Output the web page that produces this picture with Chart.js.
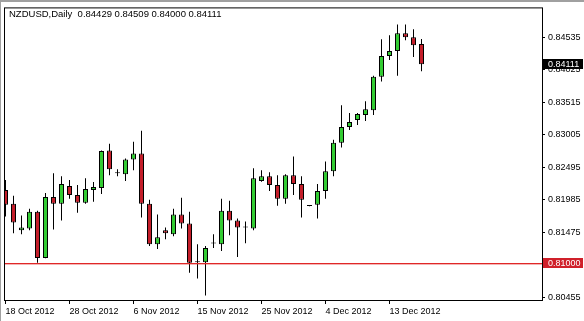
<!DOCTYPE html>
<html><head><meta charset="utf-8">
<script src="https://cdn.jsdelivr.net/npm/chart.js@4"></script>
<style>html,body{margin:0;padding:0;background:#fff;overflow:hidden}#wrap{width:584px;height:321px;position:relative}</style>
</head><body><div id="wrap"><canvas id="c" width="584" height="321"></canvas></div>
<script>
const symbol = 'NZDUSD';
const timeframe = 'Daily';
const dates = ['18 Oct 2012','19 Oct 2012','21 Oct 2012','22 Oct 2012','23 Oct 2012','24 Oct 2012','25 Oct 2012','26 Oct 2012',
 '28 Oct 2012','29 Oct 2012','30 Oct 2012','31 Oct 2012','1 Nov 2012','2 Nov 2012','4 Nov 2012','5 Nov 2012',
 '6 Nov 2012','7 Nov 2012','8 Nov 2012','9 Nov 2012','11 Nov 2012','12 Nov 2012','13 Nov 2012','14 Nov 2012',
 '15 Nov 2012','16 Nov 2012','18 Nov 2012','19 Nov 2012','20 Nov 2012','21 Nov 2012','22 Nov 2012','23 Nov 2012',
 '25 Nov 2012','26 Nov 2012','27 Nov 2012','28 Nov 2012','29 Nov 2012','30 Nov 2012','2 Dec 2012','3 Dec 2012',
 '4 Dec 2012','5 Dec 2012','6 Dec 2012','7 Dec 2012','9 Dec 2012','10 Dec 2012','11 Dec 2012','12 Dec 2012',
 '13 Dec 2012','14 Dec 2012','16 Dec 2012','17 Dec 2012','18 Dec 2012'];
const opens = [0.82139,0.81923,0.81506,0.81537,0.81799,0.81073,0.82031,0.81923,
 0.82201,0.82062,0.81939,0.82139,0.82170,0.82758,0.82402,0.82387,
 0.82619,0.82711,0.81923,0.81289,0.81506,0.81444,0.81753,0.81614,
 0.81011,0.81005,0.81305,0.81289,0.81815,0.81660,0.81552,0.81537,
 0.82279,0.82356,0.82217,0.82000,0.82371,0.82232,0.81892,0.81908,
 0.82124,0.82433,0.82881,0.83129,0.83237,0.83314,0.83391,0.83917,
 0.84241,0.84319,0.84597,0.84535,0.84429];
const highs = [0.82294,0.82047,0.81738,0.81846,0.81815,0.82093,0.82402,0.82356,
 0.82294,0.82217,0.82325,0.82263,0.82758,0.82866,0.82464,0.82634,
 0.82897,0.83067,0.81985,0.81753,0.81552,0.81846,0.82016,0.81799,
 0.81289,0.81259,0.81444,0.82000,0.81969,0.81691,0.81645,0.82479,
 0.82449,0.82418,0.82371,0.82387,0.82665,0.82356,0.81900,0.82232,
 0.82588,0.82928,0.83469,0.83345,0.83345,0.83530,0.83932,0.84504,
 0.84566,0.84736,0.84736,0.84659,0.84509];
const lows = [0.81722,0.81459,0.81444,0.81506,0.80996,0.81070,0.81521,0.81660,
 0.82000,0.81784,0.81923,0.81954,0.82078,0.82371,0.82356,0.82279,
 0.82449,0.81707,0.81259,0.81212,0.81367,0.81413,0.81537,0.80841,
 0.80749,0.80486,0.81228,0.81181,0.81429,0.81089,0.81305,0.81506,
 0.82270,0.82124,0.81892,0.81923,0.82062,0.81707,0.81885,0.81691,
 0.82000,0.82356,0.82804,0.83082,0.83159,0.83221,0.83314,0.83840,
 0.84180,0.83932,0.84489,0.84226,0.84000];
const closes = [0.81908,0.81629,0.81552,0.81799,0.81073,0.82031,0.81923,0.82232,
 0.82062,0.81939,0.82155,0.82186,0.82750,0.82464,0.82400,0.82619,
 0.82711,0.81923,0.81289,0.81398,0.81459,0.81753,0.81614,0.80996,
 0.81005,0.81228,0.81300,0.81815,0.81660,0.81552,0.81550,0.82325,
 0.82356,0.82217,0.82000,0.82371,0.82232,0.81985,0.81890,0.82124,
 0.82433,0.82881,0.83129,0.83206,0.83330,0.83407,0.83917,0.84241,
 0.84319,0.84597,0.84535,0.84411,0.84111];
const yTicks = [0.80455,0.80965,0.81475,0.81985,0.82495,0.83005,0.83515,0.84025,0.84535];
const xTickIndex = [0,8,16,24,32,40,48];
const levelLine = 0.81;

const BULL = '#33cc33', BEAR = '#c41e2a', LEVEL = '#e02828';
const FONT = {family:'"Liberation Sans", Arial, sans-serif', size:9};
const n = dates.length;
const last = n - 1;

const overlay = {
  id:'overlay',
  afterDatasetsDraw(chart){
    const {ctx, chartArea:ca, scales:{y}} = chart;
    const ly = Math.round(y.getPixelForValue(levelLine));
    ctx.save();
    ctx.fillStyle = LEVEL;
    ctx.fillRect(ca.left, ly, ca.right - ca.left, 1);
    ctx.globalAlpha = 0.35;
    ctx.fillRect(ca.left, ly + 1, ca.right - ca.left, 1);
    ctx.restore();
  },
  afterDraw(chart){
    const {ctx, chartArea:ca, scales:{y}} = chart;
    ctx.save();
    ctx.fillStyle = '#a0a0a0';
    ctx.fillRect(0, 0, chart.width, 2);
    ctx.fillRect(0, 0, 1, chart.height);
    ctx.strokeStyle = '#000'; ctx.lineWidth = 1;
    ctx.strokeRect(ca.left + 0.5, ca.top - 0.5, ca.right - ca.left, ca.bottom - ca.top);
    ctx.font = '9px "Liberation Sans", Arial, sans-serif';
    ctx.textBaseline = 'middle'; ctx.textAlign = 'left';
    const tag = (val, bg) => {
      const py = Math.round(y.getPixelForValue(val));
      ctx.fillStyle = bg;
      ctx.fillRect(ca.right + 1, py - 5, 40, 10);
      ctx.fillStyle = '#fff';
      ctx.fillText(val.toFixed(5), ca.right + 6, py + 0.5);
    };
    tag(levelLine, '#d0202a');
    tag(closes[last], '#000');
    ctx.fillStyle = '#000';
    ctx.textBaseline = 'alphabetic';
    ctx.font = '9.5px "Liberation Sans", Arial, sans-serif';
    ctx.fillText(symbol + ',' + timeframe + '  ' + [opens[last], highs[last], lows[last], closes[last]].map(v => v.toFixed(5)).join(' '), 9, 17);
    ctx.restore();
  }
};

new Chart(document.getElementById('c'), {
  type:'bar',
  data:{
    datasets:[
      {
        label:'wick', order:2,
        data: dates.map((d,i) => ({x:i, y:[lows[i], highs[i]]})),
        backgroundColor:'#000', borderWidth:0, barThickness:1, inflateAmount:0, grouped:false
      },
      {
        label:'body', order:1,
        data: dates.map((d,i) => ({x:i, y:[opens[i], closes[i]]})),
        backgroundColor: dates.map((d,i) => closes[i] >= opens[i] ? BULL : BEAR),
        borderColor:'#000', borderWidth:1, borderSkipped:false, barThickness:5,
        minBarLength:1, inflateAmount:0, grouped:false
      }
    ]
  },
  options:{
    responsive:false, animation:false, devicePixelRatio:1,
    layout:{padding:{left:4, top:4, right:0, bottom:0}},
    plugins:{legend:{display:false}, tooltip:{enabled:false}, title:{display:false}},
    scales:{
      x:{
        type:'linear', min:-0.1875, max:67.0625, offset:false,
        afterBuildTicks: s => { s.ticks = xTickIndex.map(v => ({value:v})); },
        afterFit: s => { s.height = 20; },
        grid:{drawOnChartArea:false, drawTicks:true, tickLength:3, color:'#000', offset:false},
        border:{display:false},
        ticks:{autoSkip:false, maxRotation:0, minRotation:0, align:'start', padding:2, color:'#000', font:FONT,
               callback: v => dates[v]}
      },
      y:{
        position:'right', min:0.803978, max:0.849878,
        afterBuildTicks: s => { s.ticks = yTicks.map(v => ({value:v})); },
        afterFit: s => { s.width = 42; },
        grid:{drawOnChartArea:false, drawTicks:true, tickLength:3, color:'#000'},
        border:{display:false},
        ticks:{padding:3, color:'#000', font:FONT, callback: v => v.toFixed(5)}
      }
    }
  },
  plugins:[overlay]
});
</script></body></html>
